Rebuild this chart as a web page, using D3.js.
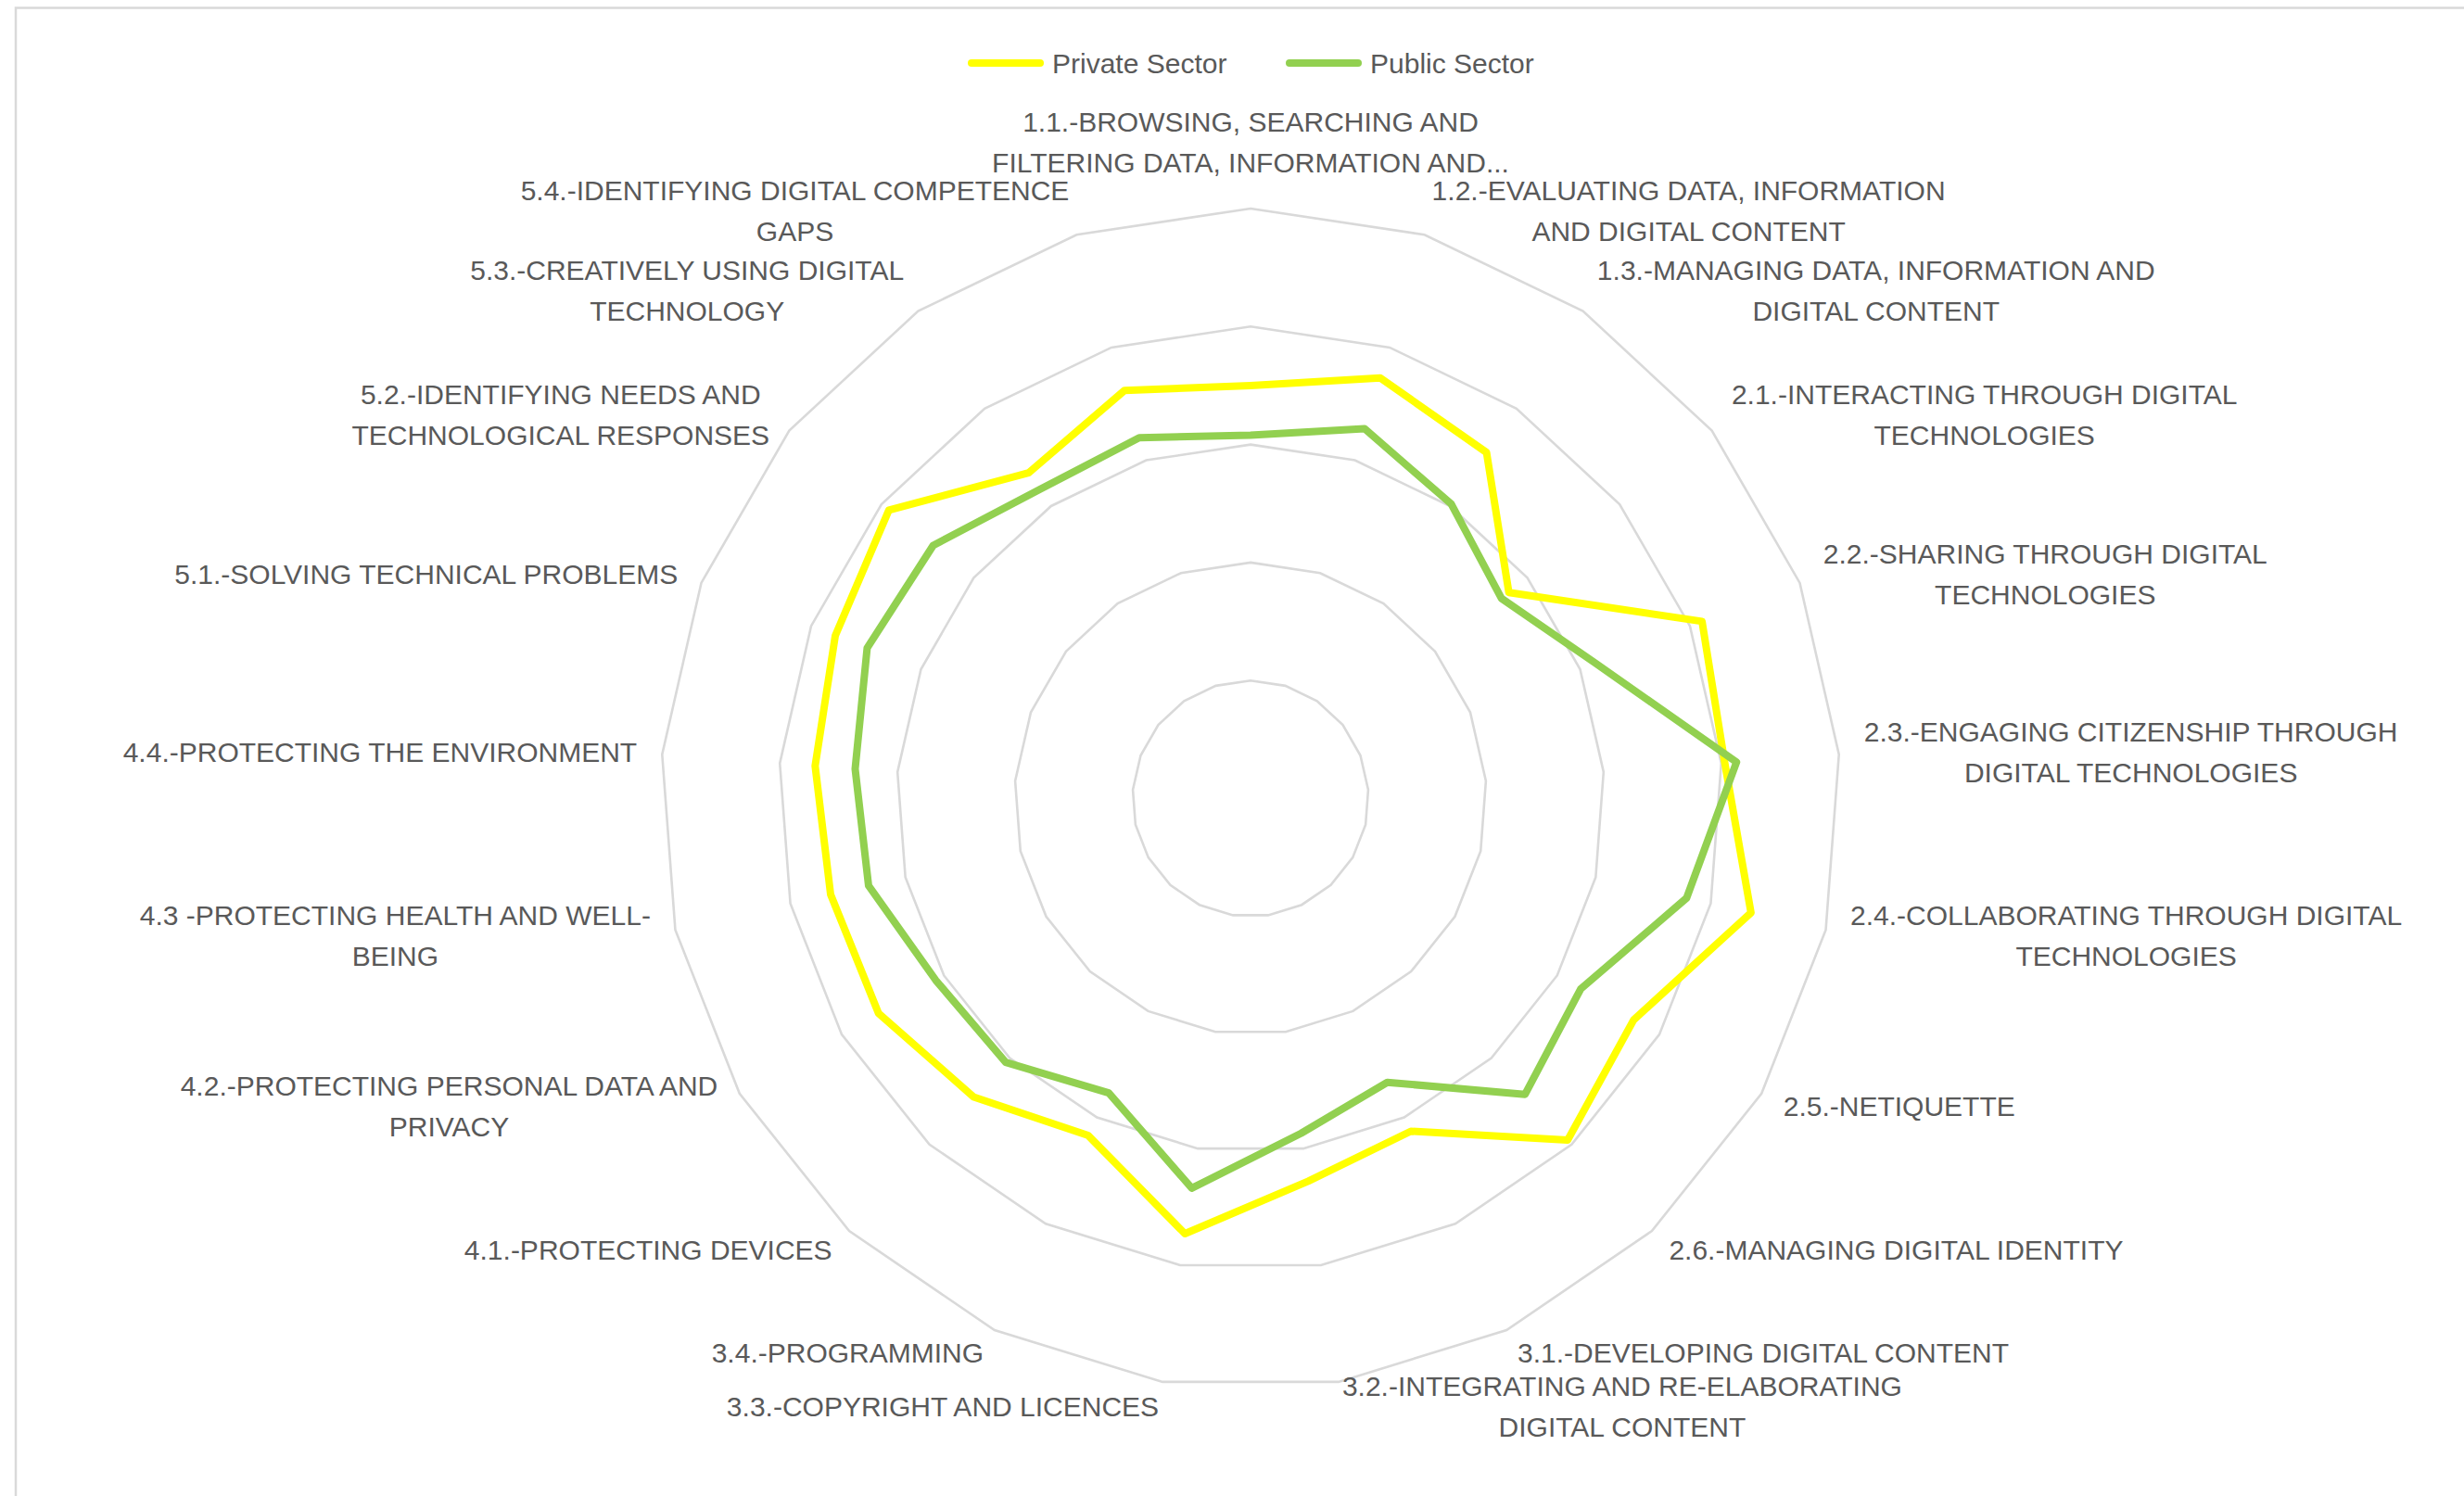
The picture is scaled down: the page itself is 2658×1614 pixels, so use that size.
<!DOCTYPE html>
<html>
<head>
<meta charset="utf-8">
<script src="https://cdn.jsdelivr.net/npm/d3@7"></script>
<style>
  body { margin: 0; background: #fff; }
  svg { display: block; }
</style>
</head>
<body>
<svg width="2658" height="1614"></svg>
<script>
// competences (label lines split with \n as in the original chart)
const categories = [
  "1.1.-BROWSING, SEARCHING AND\nFILTERING DATA, INFORMATION AND...",
  "1.2.-EVALUATING DATA, INFORMATION\nAND DIGITAL CONTENT",
  "1.3.-MANAGING DATA, INFORMATION AND\nDIGITAL CONTENT",
  "2.1.-INTERACTING THROUGH DIGITAL\nTECHNOLOGIES",
  "2.2.-SHARING THROUGH DIGITAL\nTECHNOLOGIES",
  "2.3.-ENGAGING CITIZENSHIP THROUGH\nDIGITAL TECHNOLOGIES",
  "2.4.-COLLABORATING THROUGH DIGITAL\nTECHNOLOGIES",
  "2.5.-NETIQUETTE",
  "2.6.-MANAGING DIGITAL IDENTITY",
  "3.1.-DEVELOPING DIGITAL CONTENT",
  "3.2.-INTEGRATING AND RE-ELABORATING\nDIGITAL CONTENT",
  "3.3.-COPYRIGHT AND LICENCES",
  "3.4.-PROGRAMMING",
  "4.1.-PROTECTING DEVICES",
  "4.2.-PROTECTING PERSONAL DATA AND\nPRIVACY",
  "4.3 -PROTECTING HEALTH AND WELL-\nBEING",
  "4.4.-PROTECTING THE ENVIRONMENT",
  "5.1.-SOLVING TECHNICAL PROBLEMS",
  "5.2.-IDENTIFYING NEEDS AND\nTECHNOLOGICAL RESPONSES",
  "5.3.-CREATIVELY USING DIGITAL\nTECHNOLOGY",
  "5.4.-IDENTIFYING DIGITAL COMPETENCE\nGAPS"
];

const privateSector = [3.50, 3.73, 3.55, 2.80, 4.11, 4.03, 4.35, 3.75, 3.95, 3.13, 3.28,
                       3.73, 3.17, 3.45, 3.64, 3.65, 3.70, 3.78, 3.92, 3.34, 3.62];
const publicSector  = [3.08, 3.28, 3.02, 2.72, 3.14, 4.13, 3.79, 3.23, 3.42, 2.67, 2.87,
                       3.34, 2.77, 3.05, 3.08, 3.32, 3.36, 3.49, 3.44, 3.17, 3.20];

const ringTicks = [1, 2, 3, 4, 5];

const seriesNames = ["Private Sector", "Public Sector"];
const seriesColors = ["#FFFF00", "#92D050"];

const svg = d3.select("svg");
const cx = 1349, cy = 861.5, R = 636.5;
const fontFam = "'Liberation Sans', Arial, sans-serif";
const textCol = "#595959";

// chart border (right and bottom run off the picture)
svg.append("rect")
  .attr("x", 17).attr("y", 8.5)
  .attr("width", 2700).attr("height", 1700)
  .attr("fill", "#fff")
  .attr("stroke", "#d9d9d9")
  .attr("stroke-width", 2.5);

const r = d3.scaleLinear().domain([0, 5]).range([0, R]);
const angle = d3.scaleLinear().domain([0, categories.length]).range([0, 2 * Math.PI]);

const g = svg.append("g").attr("transform", `translate(${cx},${cy})`);

// grid polygons
const ringLine = d3.lineRadial()
  .angle((d, i) => angle(i))
  .radius(d => r(d))
  .curve(d3.curveLinearClosed);

g.selectAll(".ring")
  .data(ringTicks)
  .join("path")
  .attr("class", "ring")
  .attr("d", t => ringLine(categories.map(() => t)))
  .attr("fill", "none")
  .attr("stroke", "#d9d9d9")
  .attr("stroke-width", 2.6);

// series
const seriesLine = d3.lineRadial()
  .angle((d, i) => angle(i))
  .radius(d => r(d))
  .curve(d3.curveLinearClosed);

g.selectAll(".serie")
  .data([privateSector, publicSector])
  .join("path")
  .attr("class", "serie")
  .attr("d", d => seriesLine(d))
  .attr("fill", "none")
  .attr("stroke", (d, i) => seriesColors[i])
  .attr("stroke-width", 8)
  .attr("stroke-linejoin", "round");

// category labels
const rLab = R * 1.0427;
const lh = 44;

categories.forEach((c, i) => {
  const a = angle(i);
  const ax = rLab * Math.sin(a), ay = -rLab * Math.cos(a);
  const lines = c.split("\n");
  const t = g.append("text")
    .attr("font-family", fontFam)
    .attr("font-size", 30)
    .attr("fill", textCol)
    .attr("text-anchor", "middle");
  const spans = lines.map(l => t.append("tspan").attr("x", 0).attr("dominant-baseline", "central").text(l));
  const w = d3.max(spans, s => s.node().getComputedTextLength());
  const n = lines.length;
  let x0, y0;
  if (Math.abs(Math.sin(a)) < 1e-6) {
    x0 = ax;
    y0 = ay - n * lh / 2;
  } else {
    x0 = ax + Math.sign(Math.sin(a)) * w / 2;
    y0 = ay;
  }
  spans.forEach((s, k) => s.attr("x", x0).attr("y", y0 + (k - (n - 1) / 2) * lh));
});

// legend
const leg = svg.append("g").attr("transform", "translate(0,68)");
const legX = [1044, 1387];
seriesNames.forEach((name, i) => {
  leg.append("line")
    .attr("x1", legX[i] + 4).attr("x2", legX[i] + 78)
    .attr("y1", 0).attr("y2", 0)
    .attr("stroke", seriesColors[i])
    .attr("stroke-width", 8)
    .attr("stroke-linecap", "round");
  leg.append("text")
    .attr("x", legX[i] + 91)
    .attr("y", 0)
    .attr("dominant-baseline", "central")
    .attr("font-family", fontFam)
    .attr("font-size", 30)
    .attr("fill", textCol)
    .text(name);
});
</script>
</body>
</html>
